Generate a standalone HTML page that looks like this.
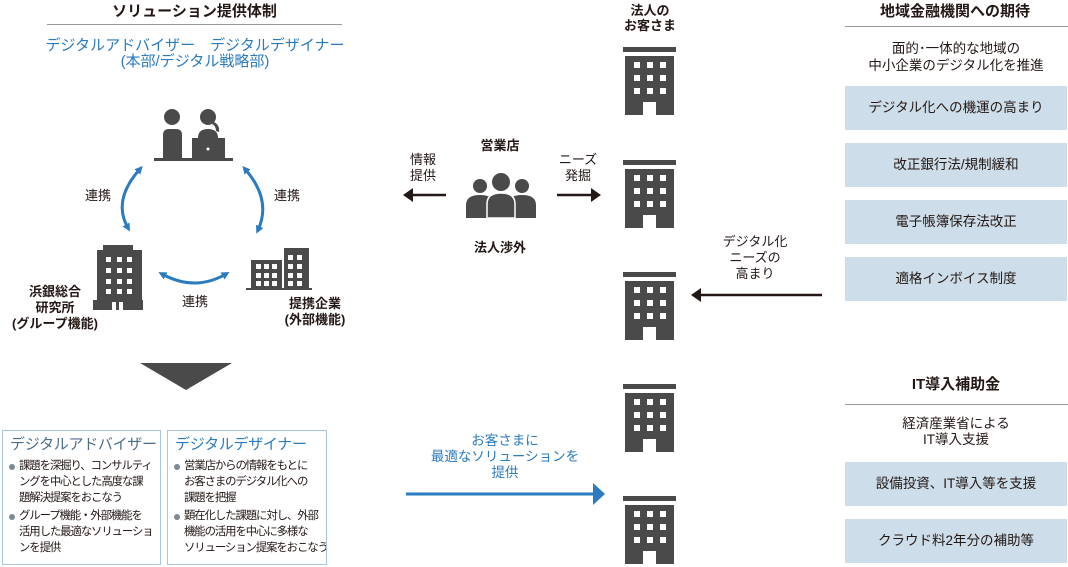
<!DOCTYPE html>
<html><head><meta charset="utf-8">
<style>
*{margin:0;padding:0;box-sizing:border-box}
body{width:1068px;height:567px;background:#fff;position:relative;overflow:hidden;font-family:"Liberation Sans","Noto Sans CJK JP",sans-serif;color:#231815}
.t{position:absolute;white-space:nowrap;text-align:center;line-height:16px;font-size:13px}
.b{font-weight:bold}
.blue{color:#2a7bc0}
.box{position:absolute;left:845px;width:222px;height:44px;background:#cddde9;font-size:13.5px;text-align:center;line-height:44px}
.card{position:absolute;top:430px;height:135px;border:1px solid #a9c6dd;padding:5px 0 0 5px;overflow:hidden}
.card h3{font-size:15px;font-weight:normal;line-height:18px;margin-bottom:4px;white-space:nowrap;letter-spacing:-0.3px;padding-left:2px}
.card p{font-size:11.4px;line-height:16px;padding-left:11px;position:relative;margin-bottom:2px;white-space:nowrap;letter-spacing:-1.1px}
.card p:before{content:"";position:absolute;left:1px;top:6px;width:6px;height:6px;border-radius:50%;background:#7b8a94}
</style></head><body>

<div class="t b" style="left:47px;width:295px;top:4px;font-size:15px">ソリューション提供体制</div>
<div style="position:absolute;left:47px;top:24px;width:295px;height:1px;background:#999"></div>
<div class="t blue" style="left:20px;width:350px;top:38px;font-size:15px">デジタルアドバイザー　デジタルデザイナー</div>
<div class="t blue" style="left:20px;width:350px;top:54px;font-size:15px">(本部/デジタル戦略部)</div>

<div class="t b" style="left:860px;width:190px;top:4px;font-size:15px">地域金融機関への期待</div>
<div style="position:absolute;left:845px;top:26px;width:223px;height:1px;background:#999"></div>
<div class="t" style="left:845px;width:222px;top:41px;font-size:13.5px">面的･一体的な地域の</div>
<div class="t" style="left:845px;width:222px;top:58px;font-size:13.5px">中小企業のデジタル化を推進</div>
<div class="box" style="top:86px">デジタル化への機運の高まり</div>
<div class="box" style="top:143px">改正銀行法/規制緩和</div>
<div class="box" style="top:200px">電子帳簿保存法改正</div>
<div class="box" style="top:257px">適格インボイス制度</div>

<div class="t b" style="left:845px;width:222px;top:377px;font-size:15px">IT導入補助金</div>
<div style="position:absolute;left:845px;top:404px;width:223px;height:1px;background:#999"></div>
<div class="t" style="left:845px;width:222px;top:416px;font-size:13.5px">経済産業省による</div>
<div class="t" style="left:845px;width:222px;top:432px;font-size:13.5px">IT導入支援</div>
<div class="box" style="top:462px">設備投資、IT導入等を支援</div>
<div class="box" style="top:519px">クラウド料2年分の補助等</div>

<div class="t b" style="left:610px;width:80px;top:3px">法人の</div>
<div class="t b" style="left:610px;width:80px;top:18px">お客さま</div>
<div class="t b" style="left:460px;width:80px;top:138px">営業店</div>
<div class="t b" style="left:460px;width:80px;top:240px">法人渉外</div>
<div class="t" style="left:400px;width:46px;top:152px">情報</div>
<div class="t" style="left:400px;width:46px;top:168px">提供</div>
<div class="t" style="left:552px;width:52px;top:152px">ニーズ</div>
<div class="t" style="left:552px;width:52px;top:168px">発掘</div>
<div class="t" style="left:710px;width:90px;top:234px">デジタル化</div>
<div class="t" style="left:710px;width:90px;top:250px">ニーズの</div>
<div class="t" style="left:710px;width:90px;top:266px">高まり</div>
<div class="t blue" style="left:410px;width:190px;top:433px;font-size:13.5px">お客さまに</div>
<div class="t blue" style="left:410px;width:190px;top:449px;font-size:13.5px">最適なソリューションを</div>
<div class="t blue" style="left:410px;width:190px;top:465px;font-size:13.5px">提供</div>

<div class="t" style="left:78px;width:40px;top:188px">連携</div>
<div class="t" style="left:267px;width:40px;top:188px">連携</div>
<div class="t" style="left:175px;width:40px;top:294px">連携</div>
<div class="t b" style="left:5px;width:100px;top:284px">浜銀総合</div>
<div class="t b" style="left:5px;width:100px;top:300px">研究所</div>
<div class="t b" style="left:0px;width:110px;top:316px">(グループ機能)</div>
<div class="t b" style="left:270px;width:90px;top:296px">提携企業</div>
<div class="t b" style="left:270px;width:90px;top:312px">(外部機能)</div>

<div class="card" style="left:2px;width:159px"><h3 style="color:#4d6e8a">デジタルアドバイザー</h3>
<p>課題を深掘り、コンサルティ<br>ングを中心とした高度な課<br>題解決提案をおこなう</p>
<p>グループ機能・外部機能を<br>活用した最適なソリューショ<br>ンを提供</p></div>
<div class="card" style="left:167px;width:160px"><h3 style="color:#2a7bc0">デジタルデザイナー</h3>
<p>営業店からの情報をもとに<br>お客さまのデジタル化への<br>課題を把握</p>
<p>顕在化した課題に対し、外部<br>機能の活用を中心に多様な<br>ソリューション提案をおこなう</p></div>

<svg width="1068" height="567" style="position:absolute;left:0;top:0">
<defs>
<g id="bld"><rect x="0" y="0" width="53" height="5" fill="#4a4a4a"/><rect x="2" y="9" width="49" height="59" fill="#4a4a4a"/>
<g fill="#fff"><rect x="11" y="15" width="6" height="6"/><rect x="24" y="15" width="6" height="6"/><rect x="37" y="15" width="6" height="6"/>
<rect x="11" y="28" width="6" height="6"/><rect x="24" y="28" width="6" height="6"/><rect x="37" y="28" width="6" height="6"/>
<rect x="11" y="41" width="6" height="6"/><rect x="24" y="41" width="6" height="6"/><rect x="37" y="41" width="6" height="6"/>
<path d="M20 68 V55 H33 V68 Z"/></g></g>
<marker id="ab" markerWidth="8" markerHeight="8" refX="4" refY="4" orient="auto-start-reverse" markerUnits="userSpaceOnUse"><path d="M0,0 L8,4 L0,8 Z" fill="#2a7bc0"/></marker>
</defs>
<use href="#bld" x="623" y="47"/>
<use href="#bld" x="623" y="160"/>
<use href="#bld" x="623" y="272"/>
<use href="#bld" x="623" y="384"/>
<use href="#bld" x="623" y="496"/>
<g fill="#4a4a4a"><circle cx="172" cy="117" r="8"/><path d="M163 160 V135 q0-6 6-6 h7 q6 0 6 6 V160Z"/>
<circle cx="208" cy="117" r="8"/><path d="M198 138 q0-9 10-9 q10 0 10 9Z"/><path d="M214 122 q6 3 5 10 l-3 -1 q0-5-4-7z"/>
<rect x="192" y="138" width="33" height="21"/><rect x="154" y="158" width="79" height="3"/></g>
<circle cx="208" cy="149" r="1.5" fill="#fff"/>
<g fill="#4a4a4a"><rect x="103" y="245" width="30" height="5"/><rect x="97" y="250" width="45" height="52"/><rect x="93" y="300" width="50" height="10"/></g>
<g fill="#fff"><rect x="106" y="257" width="5" height="5"/><rect x="117" y="257" width="5" height="5"/><rect x="127" y="257" width="5" height="5"/>
<rect x="106" y="268" width="5" height="5"/><rect x="117" y="268" width="5" height="5"/><rect x="127" y="268" width="5" height="5"/>
<rect x="106" y="279" width="5" height="5"/><rect x="117" y="279" width="5" height="5"/><rect x="127" y="279" width="5" height="5"/>
<rect x="106" y="289" width="5" height="5"/><rect x="117" y="289" width="5" height="5"/><rect x="127" y="289" width="5" height="5"/>
<rect x="112" y="302" width="4" height="8"/><rect x="119" y="302" width="4" height="8"/></g>
<g fill="#4a4a4a"><rect x="284" y="248" width="25" height="42"/><rect x="251" y="260" width="31" height="30"/><rect x="246" y="288" width="66" height="2"/></g>
<g fill="#fff"><rect x="288" y="255" width="5" height="5"/><rect x="297" y="255" width="5" height="5"/>
<rect x="288" y="264" width="5" height="5"/><rect x="297" y="264" width="5" height="5"/>
<rect x="288" y="273" width="5" height="5"/><rect x="297" y="273" width="5" height="5"/>
<rect x="288" y="281" width="5" height="5"/><rect x="297" y="281" width="5" height="5"/>
<rect x="256" y="264" width="5" height="5"/><rect x="264" y="264" width="5" height="5"/><rect x="272" y="264" width="5" height="5"/>
<rect x="256" y="273" width="5" height="5"/><rect x="264" y="273" width="5" height="5"/><rect x="272" y="273" width="5" height="5"/>
<rect x="256" y="281" width="5" height="5"/><rect x="264" y="281" width="5" height="5"/><rect x="272" y="281" width="5" height="5"/></g>
<g stroke="#2a7bc0" stroke-width="3" fill="none">
<path d="M140 169 Q112 200 128 228" marker-start="url(#ab)" marker-end="url(#ab)"/>
<path d="M245 169 Q272 200 258 230" marker-start="url(#ab)" marker-end="url(#ab)"/>
<path d="M162 274 Q195 292 226 274" marker-start="url(#ab)" marker-end="url(#ab)"/>
</g>
<g fill="#4a4a4a"><circle cx="480" cy="186" r="7"/><circle cx="522" cy="186" r="7"/><circle cx="501" cy="182" r="9"/>
<path d="M466 218 V205 q0-10 14-10 q14 0 14 10 V218Z"/><path d="M508 218 V205 q0-10 14-10 q14 0 14 10 V218Z"/>
<path d="M487 218 V204 q0-11 14-11 q14 0 14 11 V218Z" stroke="#fff" stroke-width="1.5"/></g>
<g stroke="#231815" stroke-width="2.5" fill="#231815">
<line x1="446" y1="195" x2="412" y2="195"/><path d="M403 195 L413 188 L413 202Z" stroke="none"/>
<line x1="557" y1="195" x2="592" y2="195"/><path d="M601 195 L591 188 L591 202Z" stroke="none"/>
<line x1="822" y1="295" x2="700" y2="295"/><path d="M691 295 L701 288 L701 302Z" stroke="none"/>
</g>
<line x1="406" y1="494" x2="594" y2="494" stroke="#2a7bc0" stroke-width="3"/>
<path d="M605 494 L593 483 L593 505Z" fill="#2a7bc0"/>
<path d="M140 363 L232 363 L186 390Z" fill="#4a4a4a"/>
</svg>
</body></html>
